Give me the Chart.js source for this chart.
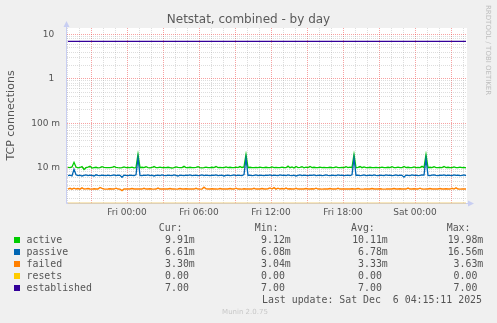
<!DOCTYPE html>
<html>
<head>
<meta charset="utf-8">
<title>Netstat, combined - by day</title>
<script src="https://cdn.jsdelivr.net/npm/chart.js@4.4.1/dist/chart.umd.min.js"></script>
<style>
  html, body { margin: 0; padding: 0; background: #f0f0f0; }
  #wrap { position: relative; width: 497px; height: 323px; overflow: hidden; }
  #chart { position: absolute; left: 0; top: 0; }
  .txt { position: absolute; white-space: pre; }
  .title { left: 0; width: 497px; top: 12px; line-height: 14px; text-align: center;
           font: 12px "DejaVu Sans", sans-serif; color: #5a5a5a; }
  .mono { font: 9.9px "DejaVu Sans Mono", monospace; color: #555; line-height: 12px; }
  .num { text-align: right; }
  .swatch { position: absolute; width: 6px; height: 6px; }
  .rrd { left: 483px; top: 5px; writing-mode: vertical-rl; font: 7px "DejaVu Sans", sans-serif;
         color: #bdbdbd; line-height: 9px; }
  .munin { left: 0; width: 490px; top: 307px; text-align: center; font: 7px "DejaVu Sans", sans-serif;
           color: #c8c8c8; line-height: 10px; }
</style>
</head>
<body>
<div id="wrap">
  <canvas id="chart" width="497" height="323"></canvas>
  <div class="txt title">Netstat, combined - by day</div>
  <div class="txt rrd">RRDTOOL / TOBI OETIKER</div>
  <div class="txt munin">Munin 2.0.75</div>
  <div id="legend"></div>
</div>
<script>
// ── Data ─────────────────────────────────────────────────────────────────
// sample times are hours relative to Fri 00:00, one sample per 10 minutes
const T_START = -4 - 55 / 60;   // Thu 19:05
const T_STEP = 1 / 6;
const X_MIN = -5;               // Thu 19:00
const X_MAX = 28 + 20 / 60;     // Sat 04:20

// values in milli-connections
const ACTIVE = [
  10.2, 10.0, 10.4, 13.2, 10.3, 9.9, 10.1, 10.6, 9.12, 10.0,
  10.3, 10.7, 9.8, 10.0, 10.2, 9.9, 10.0, 10.5, 10.1, 10.0,
  10.0, 10.0, 10.1, 10.7, 10.2, 10.0, 9.9, 10.0, 10.4, 10.0,
  10.1, 10.0, 10.3, 9.9, 10.0, 19.98, 10.0, 10.2, 10.0, 10.5,
  10.0, 9.9, 10.1, 10.6, 10.0, 10.0, 10.3, 10.0, 10.1, 10.0,
  10.2, 10.0, 9.8, 10.0, 10.4, 10.1, 10.0, 10.0, 10.7, 10.0,
  10.0, 10.2, 10.0, 10.0, 10.1, 10.5, 10.0, 9.9, 10.0, 10.3,
  10.0, 10.0, 10.2, 10.0, 10.6, 10.0, 10.1, 10.0, 10.0, 10.4,
  10.0, 10.2, 10.0, 10.0, 10.3, 10.0, 10.6, 10.1, 10.4, 19.6,
  10.0, 10.2, 10.0, 10.0, 10.1, 10.0, 10.3, 10.0, 10.0, 10.2,
  10.0, 10.0, 10.4, 10.0, 10.1, 10.0, 10.0, 10.3, 10.0, 10.0,
  10.8, 10.0, 10.4, 9.8, 10.6, 10.0, 10.2, 10.5, 9.9, 10.3,
  10.0, 10.6, 10.0, 10.2, 10.0, 10.0, 10.3, 10.0, 10.1, 10.0,
  10.0, 10.2, 10.0, 10.0, 10.4, 10.0, 10.0, 10.1, 10.0, 10.5,
  10.0, 10.3, 10.0, 19.8, 10.0, 10.2, 10.6, 10.0, 10.4, 10.0,
  10.0, 10.2, 10.0, 10.0, 10.1, 10.0, 10.0, 10.3, 10.0, 10.0,
  10.2, 10.0, 10.5, 10.0, 10.0, 10.3, 10.0, 10.0, 10.6, 10.0,
  10.2, 10.0, 10.0, 10.4, 10.0, 10.1, 10.0, 10.7, 10.0, 19.5,
  10.0, 10.2, 10.0, 10.5, 10.0, 10.0, 10.1, 10.0, 10.6, 10.0,
  10.2, 10.0, 10.0, 10.4, 10.0, 10.0, 10.3, 10.0, 10.1, 9.91
];
const PASSIVE = [
  6.6, 6.8, 6.5, 9.2, 6.9, 6.6, 6.8, 6.5, 6.7, 6.9,
  6.6, 6.8, 6.7, 6.5, 6.9, 6.7, 6.6, 6.8, 6.7, 6.6,
  6.8, 6.6, 6.7, 6.9, 6.6, 6.8, 6.7, 6.08, 6.8, 6.7,
  6.6, 6.8, 6.7, 6.6, 6.9, 16.56, 6.7, 6.6, 6.8, 6.7,
  6.9, 6.6, 6.8, 6.5, 6.7, 6.8, 6.6, 6.9, 6.7, 6.6,
  6.8, 6.7, 6.6, 6.9, 6.7, 6.5, 6.8, 6.7, 6.6, 6.8,
  6.7, 6.9, 6.6, 6.7, 6.8, 6.6, 6.7, 6.9, 6.6, 6.8,
  6.7, 6.6, 6.8, 6.7, 6.9, 6.6, 6.7, 6.8, 6.5, 6.7,
  6.8, 6.6, 6.7, 6.9, 6.6, 6.8, 6.7, 6.6, 7.0, 16.2,
  6.7, 6.8, 6.6, 6.7, 6.9, 6.6, 6.8, 6.7, 6.6, 6.8,
  6.7, 6.9, 6.6, 6.8, 6.7, 6.6, 6.9, 6.7, 6.8, 6.6,
  6.9, 6.7, 6.6, 6.8, 6.5, 6.7, 6.9, 6.6, 6.8, 6.7,
  6.6, 6.8, 6.7, 6.9, 6.6, 6.7, 6.8, 6.6, 6.7, 6.9,
  6.7, 6.6, 6.8, 6.7, 6.6, 6.9, 6.7, 6.8, 6.6, 6.7,
  6.8, 6.6, 6.9, 16.4, 6.7, 6.8, 6.6, 6.7, 6.9, 6.6,
  6.7, 6.8, 6.6, 6.9, 6.7, 6.6, 6.8, 6.7, 6.6, 6.9,
  6.7, 6.8, 6.6, 6.7, 6.9, 6.6, 6.8, 6.7, 6.1, 6.8,
  6.7, 6.6, 6.9, 6.7, 6.8, 6.6, 6.7, 6.9, 6.8, 16.0,
  6.7, 6.6, 6.8, 6.9, 6.7, 6.6, 6.8, 6.7, 6.9, 6.6,
  6.8, 6.7, 6.6, 6.9, 6.7, 6.8, 6.6, 6.7, 6.9, 6.61
];
const FAILED = [
  3.30, 3.42, 3.28, 3.45, 3.30, 3.38, 3.28, 3.50, 3.30, 3.33,
  3.40, 3.30, 3.28, 3.35, 3.30, 3.30, 3.58, 3.40, 3.30, 3.28,
  3.30, 3.36, 3.30, 3.30, 3.45, 3.30, 3.28, 3.04, 3.30, 3.32,
  3.30, 3.30, 3.38, 3.30, 3.30, 3.33, 3.30, 3.30, 3.42, 3.30,
  3.30, 3.35, 3.30, 3.28, 3.30, 3.48, 3.30, 3.30, 3.33, 3.30,
  3.30, 3.38, 3.30, 3.30, 3.28, 3.30, 3.40, 3.30, 3.30, 3.35,
  3.30, 3.30, 3.33, 3.30, 3.42, 3.30, 3.28, 3.30, 3.63, 3.35,
  3.30, 3.30, 3.36, 3.30, 3.30, 3.28, 3.40, 3.30, 3.30, 3.33,
  3.30, 3.38, 3.30, 3.30, 3.45, 3.30, 3.30, 3.28, 3.35, 3.30,
  3.30, 3.33, 3.30, 3.42, 3.30, 3.30, 3.30, 3.38, 3.30, 3.30,
  3.35, 3.50, 3.30, 3.55, 3.28, 3.45, 3.30, 3.40, 3.30, 3.48,
  3.30, 3.35, 3.30, 3.30, 3.42, 3.30, 3.30, 3.33, 3.30, 3.38,
  3.30, 3.30, 3.35, 3.30, 3.45, 3.30, 3.30, 3.28, 3.33, 3.30,
  3.30, 3.38, 3.30, 3.30, 3.30, 3.42, 3.30, 3.30, 3.33, 3.30,
  3.30, 3.30, 3.36, 3.30, 3.30, 3.40, 3.30, 3.28, 3.30, 3.33,
  3.30, 3.30, 3.38, 3.30, 3.30, 3.30, 3.35, 3.30, 3.28, 3.30,
  3.33, 3.30, 3.30, 3.40, 3.30, 3.30, 3.36, 3.30, 3.30, 3.30,
  3.48, 3.30, 3.30, 3.35, 3.30, 3.30, 3.45, 3.30, 3.28, 3.30,
  3.30, 3.38, 3.30, 3.30, 3.33, 3.30, 3.40, 3.30, 3.30, 3.35,
  3.30, 3.30, 3.42, 3.30, 3.50, 3.30, 3.28, 3.33, 3.30, 3.30
];
// flat series: value at the first and last sample
const RESETS = [0, 0];
const ESTABLISHED = [7, 7];

const SERIES_NAMES = ['active', 'passive', 'failed', 'resets', 'established'];
const SERIES_COLORS = ['#00cc00', '#0066b3', '#ff8000', '#ffcc00', '#330099'];
const CUR = ['9.91m', '6.61m', '3.30m', '0.00 ', '7.00 '];
const MIN = ['9.12m', '6.08m', '3.04m', '0.00 ', '7.00 '];
const AVG = ['10.11m', '6.78m', '3.33m', '0.00 ', '7.00 '];
const MAX = ['19.98m', '16.56m', '3.63m', '0.00 ', '7.00 '];
const LAST_UPDATE = 'Last update: Sat Dec  6 04:15:11 2025';

// axes
const Y_MIN = 0.0016, Y_MAX = 14;
const Y_TICKS = [
  0.002, 0.003, 0.004, 0.005, 0.006, 0.007, 0.008, 0.009,
  0.01, 0.02, 0.03, 0.04, 0.05, 0.06, 0.07, 0.08, 0.09,
  0.1, 0.2, 0.3, 0.4, 0.5, 0.6, 0.7, 0.8, 0.9,
  1, 2, 3, 4, 5, 6, 7, 8, 9, 10
];
const Y_LABEL_VALUES = [10, 1, 0.1, 0.01];
const Y_LABEL_TEXT = ['10  ', '1  ', '100 m', '10 m'];
const X_TICKS = [
  -5, -4, -3, -2, -1, 0, 1, 2, 3, 4, 5, 6, 7, 8, 9, 10, 11, 12, 13, 14,
  15, 16, 17, 18, 19, 20, 21, 22, 23, 24, 25, 26, 27, 28
];
const X_LABEL_HOURS = [0, 6, 12, 18, 24];
const X_LABEL_TEXT = ['Fri 00:00', 'Fri 06:00', 'Fri 12:00', 'Fri 18:00', 'Sat 00:00'];

// ── Styling ──────────────────────────────────────────────────────────────
const GRID_MAJOR = 'rgba(240, 70, 70, 0.5)';
const GRID_MINOR = 'rgba(150, 150, 150, 0.32)';
const AXIS_COLOR = '#c8cef2';
const TEXT_COLOR = '#555';
const SANS = '"DejaVu Sans", sans-serif';

const sampleTime = i => T_START + i * T_STEP;
const toPoints = arr => arr.map((v, i) => ({ x: sampleTime(i), y: v / 1000 }));
const lastT = sampleTime(ACTIVE.length - 1);
const flat = (arr, floor) => [
  { x: sampleTime(0), y: Math.max(arr[0], floor) },
  { x: lastT, y: Math.max(arr[1], floor) }
];

function labelIndex(list, v) {
  return list.findIndex(d => Math.abs(d - v) < 1e-9 * Math.max(1, Math.abs(d)));
}

// white plot area, axis lines and arrows like rrdtool
const frame = {
  id: 'frame',
  beforeDraw(chart) {
    const { ctx, chartArea: a } = chart;
    ctx.save();
    ctx.fillStyle = '#ffffff';
    ctx.fillRect(a.left, a.top, a.right - a.left, a.bottom - a.top);
    ctx.restore();
  },
  beforeDatasetsDraw(chart) {
    const { ctx, chartArea: a } = chart;
    const x0 = a.left - 0.5, y0 = a.bottom + 0.5;
    ctx.save();
    ctx.strokeStyle = AXIS_COLOR;
    ctx.lineWidth = 1;
    ctx.beginPath();
    ctx.moveTo(x0, y0);
    ctx.lineTo(x0, a.top - 2);
    ctx.moveTo(x0, y0);
    ctx.lineTo(a.right + 1, y0);
    ctx.stroke();
    ctx.fillStyle = AXIS_COLOR;
    ctx.beginPath();
    ctx.moveTo(x0 - 3, a.top - 1);
    ctx.lineTo(x0, a.top - 7);
    ctx.lineTo(x0 + 3, a.top - 1);
    ctx.closePath();
    ctx.fill();
    ctx.beginPath();
    ctx.moveTo(a.right + 1, y0 - 3);
    ctx.lineTo(a.right + 7, y0);
    ctx.lineTo(a.right + 1, y0 + 3);
    ctx.closePath();
    ctx.fill();
    ctx.restore();
  }
};

const line = (label, data, color, order, width) => ({
  label, data, order,
  borderColor: color,
  backgroundColor: color,
  borderWidth: width,
  pointRadius: 0,
  tension: 0,
  fill: false,
  clip: 2
});

new Chart(document.getElementById('chart'), {
  type: 'line',
  data: {
    datasets: [
      line('active', toPoints(ACTIVE), SERIES_COLORS[0], 5, 1.3),
      line('passive', toPoints(PASSIVE), SERIES_COLORS[1], 4, 1.3),
      line('failed', toPoints(FAILED), SERIES_COLORS[2], 3, 1.4),
      line('resets', flat(RESETS, Y_MIN), '#f0d080', 2, 1.2),
      line('established', flat(ESTABLISHED, Y_MIN), SERIES_COLORS[4], 1, 1.2)
    ]
  },
  options: {
    responsive: false,
    animation: false,
    events: [],
    layout: { padding: { top: 28, right: 30, bottom: 0, left: 0 } },
    plugins: { legend: { display: false }, tooltip: { enabled: false }, title: { display: false } },
    scales: {
      x: {
        type: 'linear',
        min: X_MIN,
        max: X_MAX,
        afterBuildTicks: s => { s.ticks = X_TICKS.map(v => ({ value: v })); },
        afterFit: s => { s.height = 120; },
        grid: {
          drawTicks: false,
          lineWidth: 1,
          color: c => (c.tick && c.tick.value % 3 === 0 ? GRID_MAJOR : GRID_MINOR)
        },
        border: { display: false, dash: [1, 1] },
        ticks: {
          autoSkip: false,
          maxRotation: 0,
          padding: 4,
          color: TEXT_COLOR,
          font: { family: SANS, size: 9 },
          callback: v => {
            const i = X_LABEL_HOURS.indexOf(v);
            return i < 0 ? '' : X_LABEL_TEXT[i];
          }
        }
      },
      y: {
        type: 'logarithmic',
        min: Y_MIN,
        max: Y_MAX,
        afterBuildTicks: s => { s.ticks = Y_TICKS.map(v => ({ value: v })); },
        afterFit: s => { s.width = 67; },
        grid: {
          drawTicks: false,
          lineWidth: 1,
          color: c => (c.tick && labelIndex(Y_LABEL_VALUES, c.tick.value) >= 0 ? GRID_MAJOR : GRID_MINOR)
        },
        border: { display: false, dash: [1, 1] },
        ticks: {
          autoSkip: false,
          padding: 7,
          color: TEXT_COLOR,
          font: { family: SANS, size: 9 },
          callback: v => {
            const i = labelIndex(Y_LABEL_VALUES, v);
            return i < 0 ? '' : Y_LABEL_TEXT[i];
          }
        },
        title: {
          display: true,
          text: 'TCP connections',
          color: TEXT_COLOR,
          font: { family: SANS, size: 11 },
          padding: { top: 5, bottom: 0 }
        }
      }
    }
  },
  plugins: [frame]
});

// ── Legend table (munin style) ───────────────────────────────────────────
(function () {
  const legend = document.getElementById('legend');
  const cell = (text, left, top, right) => {
    const d = document.createElement('div');
    d.className = 'txt mono' + (right ? ' num' : '');
    d.textContent = text;
    d.style.top = top + 'px';
    if (right) { d.style.left = (left - 80) + 'px'; d.style.width = '80px'; }
    else d.style.left = left + 'px';
    legend.appendChild(d);
  };
  const ROW0 = 233.5, ROW_H = 12;
  cell('Cur:', 158.7, ROW0 - 11.5);
  cell('Min:', 254.7, ROW0 - 11.5);
  cell('Avg:', 351, ROW0 - 11.5);
  cell('Max:', 446.7, ROW0 - 11.5);
  SERIES_NAMES.forEach((name, i) => {
    const top = ROW0 + i * ROW_H;
    const sw = document.createElement('div');
    sw.className = 'swatch';
    sw.style.left = '14px';
    sw.style.top = (top + 3.5) + 'px';
    sw.style.background = SERIES_COLORS[i];
    legend.appendChild(sw);
    cell(name, 26.5, top);
    cell(CUR[i], 194.8, top, true);
    cell(MIN[i], 290.8, top, true);
    cell(AVG[i], 387.8, top, true);
    cell(MAX[i], 483.3, top, true);
  });
  cell(LAST_UPDATE, 262, ROW0 + 5 * ROW_H, false);
})();
</script>
</body>
</html>
